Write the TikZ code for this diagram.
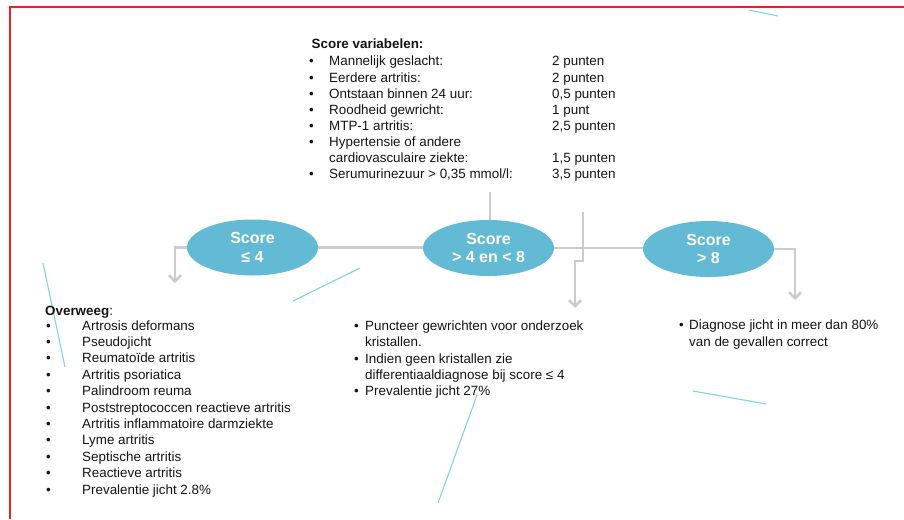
\documentclass[tikz,border=0pt]{standalone}
\usepackage{fontspec}
\setmainfont{Liberation Sans}
\usetikzlibrary{arrows.meta,shapes.geometric}
\definecolor{ellcol}{RGB}{98,186,212}
\definecolor{conncol}{RGB}{204,204,204}
\definecolor{framecol}{RGB}{225,35,40}
\definecolor{decocol}{RGB}{125,212,232}
\definecolor{txtcol}{RGB}{20,20,20}
\begin{document}
\begin{tikzpicture}[x=1pt,y=-1pt,
 txt/.style={anchor=base west,inner sep=0pt,text=txtcol,font=\fontsize{13.4}{16}\selectfont},
 boldtxt/.style={txt,font=\fontsize{13.4}{16}\selectfont\bfseries},
 score/.style={ellipse,fill=ellcol,minimum width=131pt,minimum height=56pt,inner sep=0pt,text=white,align=center,font=\fontsize{16}{18.5}\selectfont\bfseries},
 link/.style={draw=conncol,line width=2.6pt},
 arr/.style={link,-{Straight Barb[length=6pt,width=12pt]}},
 decoline/.style={draw=decocol,line width=1.1pt},
 frameline/.style={draw=framecol,line width=1.8pt}]
\useasboundingbox (0,0) rectangle (904,519);
\fill[white] (0,0) rectangle (904,519);
% frame
\draw[frameline] (10,519) -- (10,7) -- (904,7);
% decorative lines
\draw[decoline] (749,10) -- (778,16);
\draw[decoline] (43,263) -- (65,367);
\draw[decoline] (293,301) -- (360,268);
\draw[decoline] (477,395) -- (438,503);
\draw[decoline] (693,391) -- (766,404);
% ellipses
\node[score] (e1) at (252.5,247.5) {Score\\≤ 4};
\node[score] (e2) at (488.5,248) {Score\\> 4 en < 8};
\node[score] (e3) at (708.5,249) {Score\\> 8};
% connectors
\coordinate (a1) at (175,283);
\coordinate (a3) at (795,300);
\coordinate (t2) at (490,192);
\coordinate (s1) at (583,212);
\coordinate (s2) at (583,261);
\coordinate (s3) at (575,261);
\coordinate (a2) at (575,308);
\draw[link] (e1.east) -- (e1.east -| e2.west);
\draw[link] (e2.east) -- (e2.east -| e3.west);
\draw[arr] (e1.west) -| (a1);
\draw[arr] (e3.east) -| (a3);
\draw[link] (t2) -- (t2 |- e2.north);
\draw[arr] (s1) -- (s2) -- (s3) -- (a2);
% score variabelen
\node[boldtxt] (svt) at (311.5,48.3) {Score variabelen:};
\node[txt] (svb1) at (309,66) {•};
\node[txt] (svl1) at (329,66) {Mannelijk geslacht:};
\node[txt] (svv1) at (552,66) {2 punten};
\node[txt] (svb2) at (309,82) {•};
\node[txt] (svl2) at (329,82) {Eerdere artritis:};
\node[txt] (svv2) at (552,82) {2 punten};
\node[txt] (svb3) at (309,98) {•};
\node[txt] (svl3) at (329,98) {Ontstaan binnen 24 uur:};
\node[txt] (svv3) at (552,98) {0,5 punten};
\node[txt] (svb4) at (309,114.2) {•};
\node[txt] (svl4) at (329,114.2) {Roodheid gewricht:};
\node[txt] (svv4) at (552,114.2) {1 punt};
\node[txt] (svb5) at (309,130.3) {•};
\node[txt] (svl5) at (329,130.3) {MTP-1 artritis:};
\node[txt] (svv5) at (552,130.3) {2,5 punten};
\node[txt] (svb6) at (309,146.5) {•};
\node[txt] (svl6) at (329,146.5) {Hypertensie of andere};
\node[txt] (svl7) at (329,162.4) {cardiovasculaire ziekte:};
\node[txt] (svv7) at (552,162.4) {1,5 punten};
\node[txt] (svb8) at (309,178.4) {•};
\node[txt] (svl8) at (329,178.4) {Serumurinezuur > 0,35 mmol/l:};
\node[txt] (svv8) at (552,178.4) {3,5 punten};
% left block
\node[txt] (ovt) at (45,315) {\textbf{Overweeg}:};
\foreach \t [count=\i] in {Artrosis deformans,Pseudojicht,Reumatoïde artritis,Artritis psoriatica,Palindroom reuma,Poststreptococcen reactieve artritis,Artritis inflammatoire darmziekte,Lyme artritis,Septische artritis,Reactieve artritis,Prevalentie jicht 2.8\%}{
  \node[txt] (ovb\i) at (46,{313.6+16.4*\i}) {•};
  \node[txt] (ovl\i) at (82,{313.6+16.4*\i}) {\t};
}
% middle block
\node[txt] (mb1) at (354,330) {•};
\node[txt] (ml1) at (365,330) {Puncteer gewrichten voor onderzoek};
\node[txt] (ml2) at (365,346.5) {kristallen.};
\node[txt] (mb3) at (354,363) {•};
\node[txt] (ml3) at (365,363) {Indien geen kristallen zie};
\node[txt] (ml4) at (365,379.3) {differentiaaldiagnose bij score ≤ 4};
\node[txt] (mb5) at (354,395.7) {•};
\node[txt] (ml5) at (365,395.7) {Prevalentie jicht 27\%};
% right block
\node[txt] (rb1) at (679,329.5) {•};
\node[txt] (rl1) at (689,329.5) {Diagnose jicht in meer dan 80\%};
\node[txt] (rl2) at (689,346) {van de gevallen correct};
\end{tikzpicture}
\end{document}
